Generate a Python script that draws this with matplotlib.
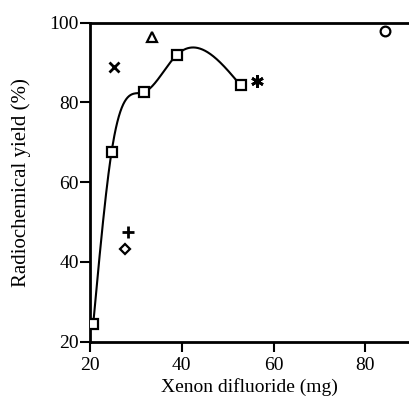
import numpy as np
import matplotlib
matplotlib.use("Agg")
import matplotlib.pyplot as plt

plt.rcParams['font.family'] = ['Liberation Serif', 'DejaVu Serif']

# Main series (squares, joined by smooth curve)
sq_x = [20.7, 24.7, 31.8, 38.9, 52.8]
sq_y = [24.4, 67.6, 82.6, 91.9, 84.3]

# Individual points
cross_x, cross_y = [25.3], [88.8]
tri_x, tri_y = [33.6], [96.3]
plus_x, plus_y = [28.2], [47.5]
dia_x, dia_y = [27.7], [43.2]
ast_x, ast_y = [56.4], [85.3]
circ_x, circ_y = [84.3], [97.9]

xticks = [20, 40, 60, 80]
yticks = [20, 40, 60, 80, 100]


def natural_spline(x, y, n=300):
    x = np.asarray(x, float); y = np.asarray(y, float)
    k = len(x)
    h = np.diff(x)
    A = np.zeros((k, k)); b = np.zeros(k)
    A[0, 0] = 1; A[-1, -1] = 1
    for i in range(1, k - 1):
        A[i, i - 1] = h[i - 1]
        A[i, i] = 2 * (h[i - 1] + h[i])
        A[i, i + 1] = h[i]
        b[i] = 3 * ((y[i + 1] - y[i]) / h[i] - (y[i] - y[i - 1]) / h[i - 1])
    c = np.linalg.solve(A, b)
    xs = np.linspace(x[0], x[-1], n)
    ys = np.empty_like(xs)
    for j, xv in enumerate(xs):
        i = min(np.searchsorted(x, xv, side='right') - 1, k - 2)
        dx = xv - x[i]
        bi = (y[i + 1] - y[i]) / h[i] - h[i] * (2 * c[i] + c[i + 1]) / 3
        di = (c[i + 1] - c[i]) / (3 * h[i])
        ys[j] = y[i] + bi * dx + c[i] * dx ** 2 + di * dx ** 3
    return xs, ys


fig = plt.figure(figsize=(4.09, 3.96), dpi=100)
ax = fig.add_axes([0.22, 0.137, 0.78, 0.8057])

cx, cy = natural_spline(sq_x, sq_y)
ax.plot(cx, cy, color='black', lw=1.5, zorder=2)

mkw = dict(linestyle='none', color='black', zorder=3)
ax.plot(sq_x, sq_y, marker='s', ms=7.5, mfc='white', mec='black', mew=1.6, **mkw)
ax.plot(cross_x, cross_y, marker='x', ms=7, mew=2, **mkw)
ax.plot(tri_x, tri_y, marker='^', ms=6.5, mfc='white', mec='black', mew=1.6, **mkw)
ax.plot(plus_x, plus_y, marker='+', ms=8, mew=2, **mkw)
ax.plot(dia_x, dia_y, marker='D', ms=5, mfc='white', mec='black', mew=1.6, **mkw)
ax.plot(ast_x, ast_y, marker=(6, 2, 0), ms=9, mew=2, **mkw)
ax.plot(circ_x, circ_y, marker='o', ms=7, mfc='white', mec='black', mew=1.6, **mkw)

ax.set_xlim(20, 89.5)
ax.set_ylim(20, 100)
ax.set_xticks(xticks)
ax.set_yticks(yticks)
ax.spines['right'].set_visible(False)
for s in ['left', 'bottom', 'top']:
    ax.spines[s].set_linewidth(2)
ax.tick_params(direction='out', length=7, width=1.5, labelsize=14, colors='black')
ax.tick_params(axis='y', pad=1)
ax.tick_params(axis='x', pad=4)
ax.set_xlabel('Xenon difluoride (mg)', fontsize=14, labelpad=3)
ax.set_ylabel('Radiochemical yield (%)', fontsize=15, labelpad=13)

fig.savefig('out.png', dpi=100)
